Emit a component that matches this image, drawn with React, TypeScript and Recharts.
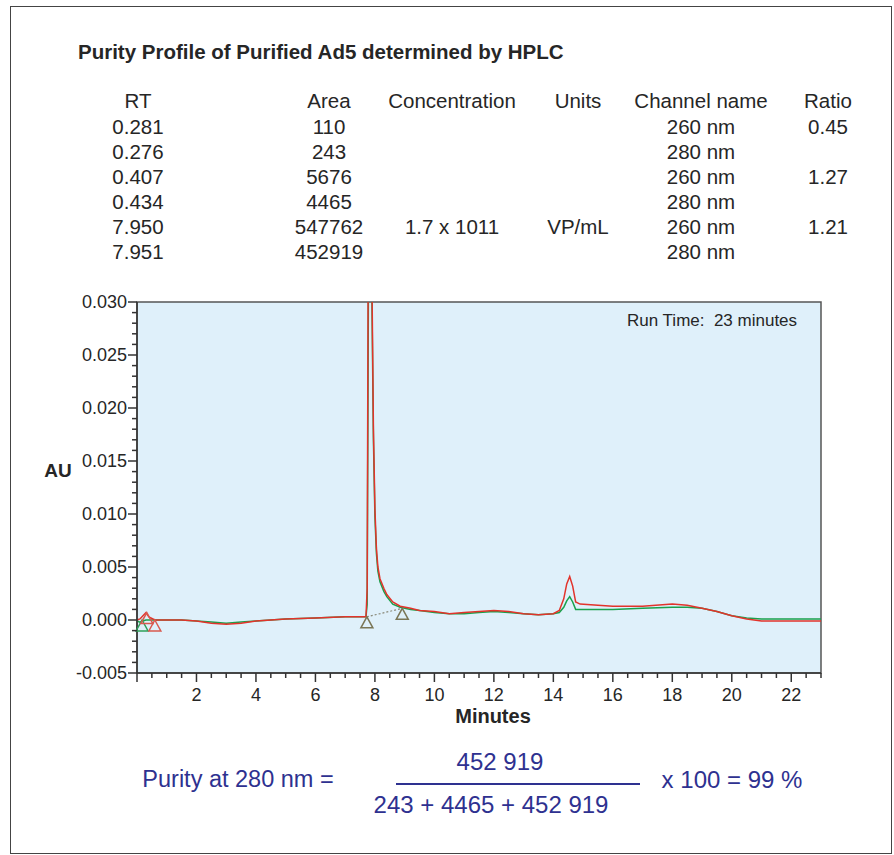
import React from 'react';
import { ComposedChart, Line, XAxis, YAxis, ReferenceArea } from 'recharts';

// HPLC trace, retention time in minutes, absorbance in AU
const minutes = [
  0, 0.1, 0.2, 0.3, 0.4, 0.6, 1, 1.5, 2, 2.5, 3, 3.5, 4, 5, 6, 7, 7.5, 7.7, 7.74, 7.78, 7.82, 7.86, 7.9, 7.95,
  8.0, 8.05, 8.1, 8.17, 8.3, 8.4, 8.6, 8.85, 9.2, 9.5, 10, 10.5, 11, 11.5, 12, 12.5, 13, 13.5, 14, 14.2, 14.35,
  14.45, 14.55, 14.65, 14.75, 14.9, 15.5, 16, 17, 18, 18.5, 19, 19.5, 20, 20.5, 21, 22, 23,
];
const au260 = [
  0.0, 0.0001, 0.0004, 0.0007, 0.0003, 0.0, 0.0, 0.0, -0.0001, -0.0003, -0.0004, -0.0003, -0.0001, 0.0001, 0.0002,
  0.0003, 0.0003, 0.0003, 0.003, 0.04, 0.065, 0.06, 0.032, 0.018, 0.0105, 0.0068, 0.005, 0.0039, 0.003, 0.0024,
  0.0017, 0.0013, 0.0011, 0.0009, 0.0008, 0.0006, 0.0007, 0.0008, 0.0009, 0.0008, 0.0006, 0.0005, 0.0006, 0.0009,
  0.002, 0.0034, 0.0041, 0.0032, 0.0017, 0.0015, 0.0014, 0.0013, 0.0013, 0.0015, 0.0014, 0.0011, 0.0008, 0.0004,
  0.0001, -0.0001, -0.0001, -0.0001,
];
const au280 = [
  -0.0001, -0.0002, -0.0001, 0.0, 0.0, 0.0, 0.0, 0.0, -0.0001, -0.0002, -0.0003, -0.0002, -0.0001, 0.0001, 0.0002,
  0.0003, 0.0003, 0.0003, 0.0015, 0.03, 0.055, 0.055, 0.03, 0.017, 0.0098, 0.0063, 0.0046, 0.0036, 0.0027, 0.0022,
  0.0015, 0.0012, 0.001, 0.0009, 0.0007, 0.0006, 0.0006, 0.0007, 0.0008, 0.0007, 0.0006, 0.0005, 0.0006, 0.0007,
  0.0012, 0.0018, 0.0022, 0.0017, 0.001, 0.001, 0.001, 0.001, 0.0011, 0.0012, 0.0012, 0.0011, 0.0008, 0.0004,
  0.0002, 0.0001, 0.0001, 0.0001,
];

// peak start / end markers
const marks260 = [{ t: 0.33, v: 0.0007 }, { t: 0.6, v: 0.0 }];
const marks280 = [{ t: 0.17, v: 0.0 }];
const peakMarks = [{ t: 7.73, v: 0.0003 }, { t: 8.92, v: 0.0011 }];
const dropLine = [{ t: 7.73, v: 0.0003 }, { t: 8.92, v: 0.0011 }];

// table
const headers = ['RT', 'Area', 'Concentration', 'Units', 'Channel name', 'Ratio'];
const rt = ['0.281', '0.276', '0.407', '0.434', '7.950', '7.951'];
const area = ['110', '243', '5676', '4465', '547762', '452919'];
const concentration = ['', '', '', '', '1.7 x 1011', ''];
const units = ['', '', '', '', 'VP/mL', ''];
const channel = ['260 nm', '280 nm', '260 nm', '280 nm', '260 nm', '280 nm'];
const ratio = ['0.45', '', '1.27', '', '1.21', ''];

const yTicks = Array.from({ length: 36 }, (_, i) => (i - 5) / 1000);
const xTicks = Array.from({ length: 47 }, (_, i) => i / 2);

const FONT = '"Liberation Sans", Arial, Helvetica, sans-serif';
const INK = '#262626';
const NAVY = '#2e3190';

const traceData = minutes.map((t, i) => ({ t, red: au260[i], green: au280[i] }));

const YTick = (p: any) => {
  const { x, y, payload } = p;
  const major = Math.round(payload.value * 1000) % 5 === 0;
  return (
    <g>
      <line x1={x - (major ? 9 : 5)} x2={x} y1={y} y2={y} stroke="#333" strokeWidth={1.5} />
      {major && (
        <text x={x - 10} y={y} dy="0.36em" textAnchor="end" fontSize={18} fill={INK} fontFamily={FONT}>
          {payload.value.toFixed(3)}
        </text>
      )}
    </g>
  );
};

const XTick = (p: any) => {
  const { x, y, payload } = p;
  const major = Math.round(payload.value * 2) % 4 === 0;
  return (
    <g>
      <line x1={x} x2={x} y1={y} y2={y + (major ? 9 : 5)} stroke="#333" strokeWidth={1.5} />
      {major && payload.value > 0 && (
        <text x={x} y={y + 22} dy="0.36em" textAnchor="middle" fontSize={18} fill={INK} fontFamily={FONT}>
          {payload.value}
        </text>
      )}
    </g>
  );
};

const triangle = (color: string) => (p: any) => {
  const { cx, cy, index } = p;
  if (cx == null || cy == null) return <g key={index} />;
  return (
    <path
      key={index}
      d={`M${cx},${cy} L${cx + 6},${cy + 11} L${cx - 6},${cy + 11} Z`}
      fill="none"
      stroke={color}
      strokeWidth={1.5}
    />
  );
};

const Cell = ({ x, y, text, size = 20.5, bold = false, color = INK, anchor = 'center' }: any) => (
  <div
    style={{
      position: 'absolute',
      left: x,
      top: y,
      transform: anchor === 'center' ? 'translate(-50%, -50%)' : 'translate(0, -50%)',
      whiteSpace: 'pre',
      lineHeight: 1,
      fontSize: size,
      fontWeight: bold ? 700 : 400,
      color,
    }}
  >
    {text}
  </div>
);

const colX = [138, 329, 452, 578, 701, 828];

export default function App() {
  const columns = [rt, area, concentration, units, channel, ratio];
  return (
    <div
      style={{
        position: 'absolute',
        left: 0,
        top: 0,
        width: 894,
        height: 855,
        background: '#fff',
        fontFamily: FONT,
        overflow: 'hidden',
      }}
    >
      <div style={{ position: 'absolute', left: 10, top: 6, width: 880, height: 846, border: '1px solid #444' }} />

      <Cell x={78} y={52} text="Purity Profile of Purified Ad5 determined by HPLC" size={20.5} bold anchor="left" />

      {headers.map((h, c) => (
        <Cell key={h} x={colX[c]} y={101} text={h} />
      ))}
      {columns.map((col, c) =>
        col.map((v, r) => (v ? <Cell key={c + '-' + r} x={colX[c]} y={127 + r * 25} text={v} /> : null)),
      )}

      <div style={{ position: 'absolute', left: 0, top: 280 }}>
        <ComposedChart width={894} height={460} margin={{ top: 22, right: 73, bottom: 0, left: 0 }}>
          <ReferenceArea x1={0} x2={23} y1={-0.005} y2={0.03} fill="#dff0fa" fillOpacity={1} stroke="#555" strokeWidth={1.5} />
          <XAxis
            type="number"
            dataKey="t"
            domain={[0, 23]}
            ticks={xTicks}
            interval={0}
            tick={<XTick />}
            tickLine={false}
            tickSize={0}
            tickMargin={0}
            height={67}
            axisLine={{ stroke: '#333', strokeWidth: 1.5 }}
          />
          <YAxis
            type="number"
            domain={[-0.005, 0.03]}
            allowDataOverflow
            ticks={yTicks}
            interval={0}
            tick={<YTick />}
            tickLine={false}
            tickSize={0}
            tickMargin={0}
            width={137}
            axisLine={{ stroke: '#333', strokeWidth: 1.5 }}
          />
          <Line data={dropLine} dataKey="v" stroke="#8a8a7a" strokeWidth={1.2} strokeDasharray="2 2" dot={false} activeDot={false} isAnimationActive={false} />
          <Line data={traceData} dataKey="green" stroke="#1aa04c" strokeWidth={1.5} dot={false} activeDot={false} isAnimationActive={false} />
          <Line data={traceData} dataKey="red" stroke="#e2332b" strokeWidth={1.5} dot={false} activeDot={false} isAnimationActive={false} />
          <Line data={marks280} dataKey="v" stroke="none" dot={triangle('#2fa05a')} activeDot={false} isAnimationActive={false} />
          <Line data={marks260} dataKey="v" stroke="none" dot={triangle('#d9594f')} activeDot={false} isAnimationActive={false} />
          <Line data={peakMarks} dataKey="v" stroke="none" dot={triangle('#7a7656')} activeDot={false} isAnimationActive={false} />
        </ComposedChart>
      </div>

      <Cell x={58} y={470} text="AU" size={19} bold />
      <Cell x={493} y={716} text="Minutes" size={20} bold />
      <Cell x={627} y={320} text={'Run Time:  23 minutes'} size={17} anchor="left" />

      <Cell x={238} y={780} text="Purity at 280 nm =" size={23.5} color={NAVY} />
      <Cell x={500} y={762} text="452 919" size={24} color={NAVY} />
      <div style={{ position: 'absolute', left: 396, top: 783, width: 244, height: 2, background: NAVY }} />
      <Cell x={491} y={805} text="243 + 4465 + 452 919" size={24} color={NAVY} />
      <Cell x={732} y={780} text="x 100 = 99 %" size={24} color={NAVY} />
    </div>
  );
}
